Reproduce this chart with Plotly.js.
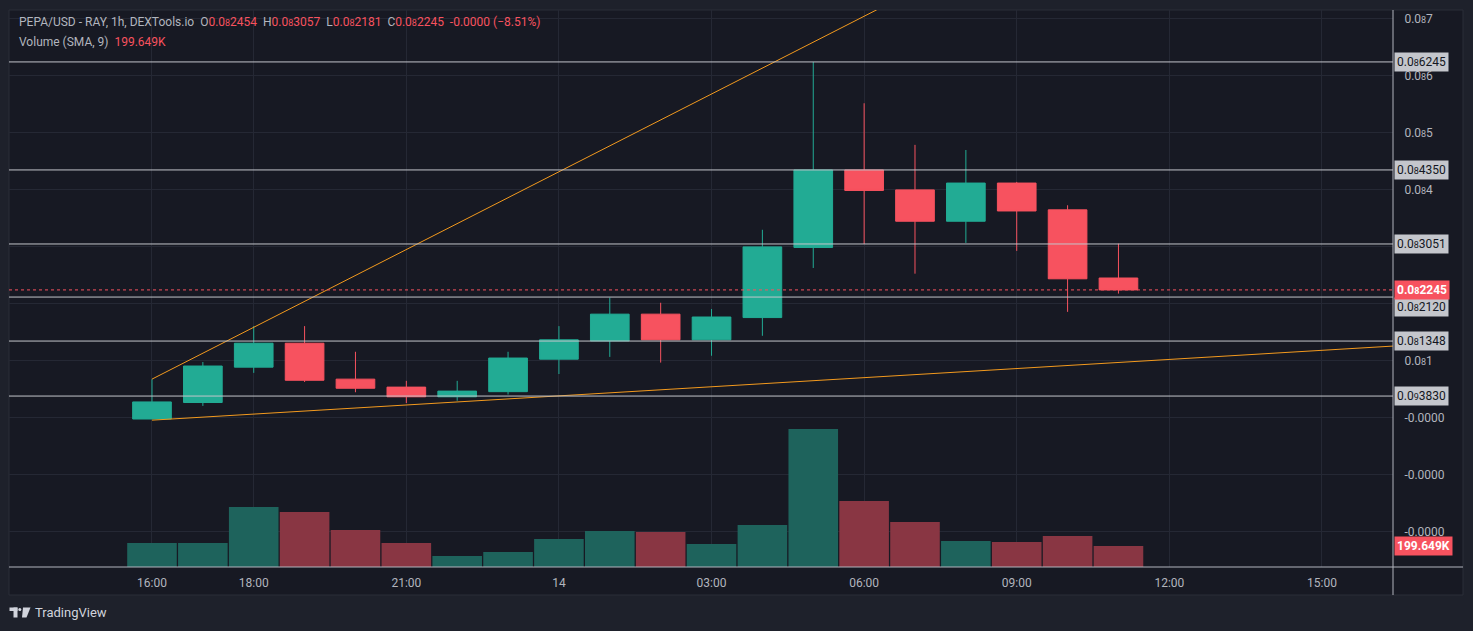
<!DOCTYPE html>
<html>
<head>
<meta charset="utf-8">
<script src="https://cdn.plot.ly/plotly-3.0.1.min.js"></script>
<style>
  html, body { margin: 0; padding: 0; background: #1e212b; }
  #chart { width: 1473px; height: 631px; }
</style>
</head>
<body>
<div id="chart"></div>
<script>
// Prices are in units of 1e-9 USD (TradingView shows them as 0.0₈xxxx)
const times = [
  '2024-05-13 16:00','2024-05-13 17:00','2024-05-13 18:00','2024-05-13 19:00','2024-05-13 20:00',
  '2024-05-13 21:00','2024-05-13 22:00','2024-05-13 23:00','2024-05-14 00:00','2024-05-14 01:00',
  '2024-05-14 02:00','2024-05-14 03:00','2024-05-14 04:00','2024-05-14 05:00','2024-05-14 06:00',
  '2024-05-14 07:00','2024-05-14 08:00','2024-05-14 09:00','2024-05-14 10:00','2024-05-14 11:00'
];
const openP  = [-0.02,0.27,0.89,1.31,0.68,0.54,0.37,0.46,1.03,1.35,1.82,1.37,1.76,2.99,4.35,4.00,3.45,4.12,3.65,2.454];
const highP  = [ 0.68,0.98,1.61,1.61,1.16,0.65,0.65,1.16,1.61,2.11,2.02,1.91,3.30,6.245,5.52,4.79,4.70,4.14,3.73,3.057];
const lowP   = [-0.02,0.21,0.79,0.63,0.45,0.26,0.30,0.41,0.77,1.07,0.97,1.09,1.44,2.63,3.05,2.53,3.07,2.93,1.86,2.181];
const closeP = [ 0.28,0.91,1.31,0.66,0.52,0.37,0.47,1.05,1.37,1.82,1.37,1.77,3.00,4.35,3.99,3.45,4.12,3.63,2.44,2.245];
const volumeK = [228,228,570,523,352,228,105,143,266,342,333,219,399,1312,627,428,247,238,295,199.649];

const sub = d => `<span style="font-size:9px">${d}</span>`;
const S8 = sub('8'), S9 = sub('9');
const levelPrices = [6.245, 4.350, 3.051, 2.120, 1.348, 0.383];
const levelLabels = ['0.0'+S8+'6245','0.0'+S8+'4350','0.0'+S8+'3051','0.0'+S8+'2120','0.0'+S8+'1348','0.0'+S9+'3830'];
const lastPrice = 2.245;
const lastPriceLabel = '0.0'+S8+'2245';
const lastVolumeLabel = '199.649K';

const upperTrendT = ['2024-05-13 16:00','2024-05-14 06:15'];
const upperTrendP = [0.68, 7.16];
const lowerTrendT = ['2024-05-13 16:00','2024-05-14 16:24'];
const lowerTrendP = [-0.04, 1.26];

const priceTickVals = [7,6,5,4,3,2,1,0,-1,-2];
const priceTickText = ['0.0'+S8+'7','0.0'+S8+'6','0.0'+S8+'5','0.0'+S8+'4','','','0.0'+S8+'1','-0.0000','-0.0000','-0.0000'];
const timeTickVals = ['2024-05-13 16:00','2024-05-13 18:00','2024-05-13 21:00','2024-05-14 00:00',
  '2024-05-14 03:00','2024-05-14 06:00','2024-05-14 09:00','2024-05-14 12:00','2024-05-14 15:00'];
const timeTickText = ['16:00','18:00','21:00','14','03:00','06:00','09:00','12:00','15:00'];

const GREEN = '#22ab94', RED = '#f7525f';
const VGREEN = '#1e635c', VRED = '#893643';
const ORANGE = '#f39a1e';
const PANE = '#171923', OUTER = '#1e212b', GRID = '#252834', TXT = '#b2b5be';
const FONT = 'Roboto, "Noto Sans", "DejaVu Sans", sans-serif';

const volColors = closeP.map((c, i) => c >= openP[i] ? VGREEN : VRED);

const traces = [
  {
    type: 'bar', x: times, y: volumeK.map(v => v * 1000), xaxis: 'x', yaxis: 'y2',
    width: 3600000 * 0.975, marker: { color: volColors, line: { width: 0 } }, hoverinfo: 'skip'
  },
  {
    type: 'scatter', mode: 'lines', x: upperTrendT, y: upperTrendP,
    line: { color: ORANGE, width: 1 }, hoverinfo: 'skip'
  },
  {
    type: 'scatter', mode: 'lines', x: lowerTrendT, y: lowerTrendP,
    line: { color: ORANGE, width: 1 }, hoverinfo: 'skip'
  },
  {
    type: 'candlestick', x: times, open: openP, high: highP, low: lowP, close: closeP,
    increasing: { line: { color: GREEN, width: 1 }, fillcolor: GREEN },
    decreasing: { line: { color: RED, width: 1 }, fillcolor: RED },
    whiskerwidth: 0, hoverinfo: 'skip'
  }
];

const shapes = [
  { type: 'rect', xref: 'paper', yref: 'paper', x0: 0, x1: (1463 - 9) / 1384, y0: -(595 - 567) / 557, y1: 1,
    fillcolor: PANE, line: { color: '#2a2e39', width: 1 }, layer: 'below' },
  { type: 'line', xref: 'paper', yref: 'paper', x0: 1, x1: 1, y0: -(595 - 567) / 557, y1: 1,
    line: { color: '#b2b5be', width: 1 }, layer: 'above' },
  { type: 'line', xref: 'paper', yref: 'paper', x0: 0, x1: (1463 - 9) / 1384, y0: 0, y1: 0,
    line: { color: '#b2b5be', width: 1 }, layer: 'above' }
];
levelPrices.forEach(p => shapes.push({
  type: 'line', xref: 'paper', yref: 'y', x0: 0, x1: 1, y0: p, y1: p,
  line: { color: '#c3c5cb', width: 1 }, layer: 'above'
}));
shapes.push({ type: 'line', xref: 'paper', yref: 'y', x0: 0, x1: 1, y0: lastPrice, y1: lastPrice,
  line: { color: RED, width: 1, dash: 'dot' }, layer: 'above' });

// TradingView logo (approximate)
function px(xp) { return (xp - 9) / 1384; }
function py(yp) { return (567 - yp) / 557; }
shapes.push({ type: 'rect', xref: 'paper', yref: 'paper', x0: px(9.5), x1: px(17.5), y0: py(611), y1: py(607.5),
  fillcolor: '#d1d4dc', line: { width: 0 } });
shapes.push({ type: 'rect', xref: 'paper', yref: 'paper', x0: px(13.5), x1: px(17.5), y0: py(617.5), y1: py(607.5),
  fillcolor: '#d1d4dc', line: { width: 0 } });
shapes.push({ type: 'circle', xref: 'paper', yref: 'paper', x0: px(18.3), x1: px(21.3), y0: py(611), y1: py(608),
  fillcolor: '#d1d4dc', line: { width: 0 } });
shapes.push({ type: 'path', xref: 'paper', yref: 'paper',
  path: `M ${px(23)} ${py(607.5)} L ${px(30.5)} ${py(607.5)} L ${px(26.5)} ${py(617.5)} L ${px(22)} ${py(617.5)} Z`,
  fillcolor: '#d1d4dc', line: { width: 0 } });

const redSpan = s => `<span style="color:${RED}">${s}</span>`;
const NB = '\u00a0';
const annotations = [
  { xref: 'paper', yref: 'paper', x: 0, y: 1, xanchor: 'left', yanchor: 'middle', xshift: 8, yshift: -12,
    showarrow: false, font: { family: FONT, size: 12, color: TXT },
    text: 'PEPA/USD - RAY, 1h, DEXTools.io' + NB + NB + 'O' + redSpan('0.0' + S8 + '2454') + NB + NB + 'H' + redSpan('0.0' + S8 + '3057') +
          NB + NB + 'L' + redSpan('0.0' + S8 + '2181') + NB + NB + 'C' + redSpan('0.0' + S8 + '2245') + NB + NB + redSpan('-0.0000 (−8.51%)') },
  { xref: 'paper', yref: 'paper', x: 0, y: 1, xanchor: 'left', yanchor: 'middle', xshift: 8, yshift: -32,
    showarrow: false, font: { family: FONT, size: 12, color: TXT },
    text: 'Volume (SMA, 9)' + NB + NB + redSpan('199.649K') },
  { xref: 'paper', yref: 'paper', x: px(33), y: py(612), xanchor: 'left', yanchor: 'middle',
    showarrow: false, font: { family: FONT, size: 13, color: '#d1d4dc' }, text: 'TradingView' }
];
levelPrices.forEach((p, i) => annotations.push({
  xref: 'paper', yref: 'y', x: 1, y: p, xanchor: 'left', yanchor: 'middle', xshift: 1,
  yshift: p === 2.120 ? -10 : 0,
  showarrow: false, bgcolor: '#c4c6cc', borderpad: 2,
  font: { family: FONT, size: 12, color: '#131722' }, text: levelLabels[i]
}));
annotations.push({ xref: 'paper', yref: 'y', x: 1, y: lastPrice, xanchor: 'left', yanchor: 'middle', xshift: 1,
  showarrow: false, bgcolor: RED, borderpad: 2,
  font: { family: FONT, size: 12, color: '#ffffff' }, text: '<b>' + lastPriceLabel + '</b>' });
annotations.push({ xref: 'paper', yref: 'y2', x: 1, y: volumeK[volumeK.length - 1] * 1000, xanchor: 'left', yanchor: 'middle', xshift: 1,
  showarrow: false, bgcolor: RED, borderpad: 2,
  font: { family: FONT, size: 12, color: '#ffffff' }, text: '<b>' + lastVolumeLabel + '</b>' });

const layout = {
  width: 1473, height: 631,
  margin: { l: 9, r: 80, t: 10, b: 64, pad: 0 },
  paper_bgcolor: OUTER, plot_bgcolor: PANE,
  showlegend: false, hovermode: false, dragmode: false,
  boxgap: 0.24, boxgroupgap: 0,
  font: { family: FONT, color: TXT, size: 12 },
  xaxis: {
    type: 'date', range: ['2024-05-13 13:11:20', '2024-05-14 16:23:50'],
    tickvals: timeTickVals, ticktext: timeTickText,
    showgrid: true, gridcolor: GRID, gridwidth: 1, zeroline: false, showline: false,
    ticks: 'outside', ticklen: 5, tickcolor: 'rgba(0,0,0,0)',
    tickfont: { family: FONT, size: 12, color: TXT },
    rangeslider: { visible: false }, fixedrange: true
  },
  yaxis: {
    side: 'right', range: [-2.616, 7.156],
    tickvals: priceTickVals, ticktext: priceTickText,
    showgrid: true, gridcolor: GRID, gridwidth: 1, zeroline: false, showline: false,
    ticks: 'outside', ticklen: 8, tickcolor: 'rgba(0,0,0,0)',
    tickfont: { family: FONT, size: 12, color: TXT }, fixedrange: true
  },
  yaxis2: {
    overlaying: 'y', side: 'right', range: [0, 557 * 9507],
    showgrid: false, showticklabels: false, zeroline: false, showline: false, fixedrange: true
  },
  shapes: shapes,
  annotations: annotations
};

Plotly.newPlot('chart', traces, layout, { displayModeBar: false, staticPlot: true });
</script>
</body>
</html>
